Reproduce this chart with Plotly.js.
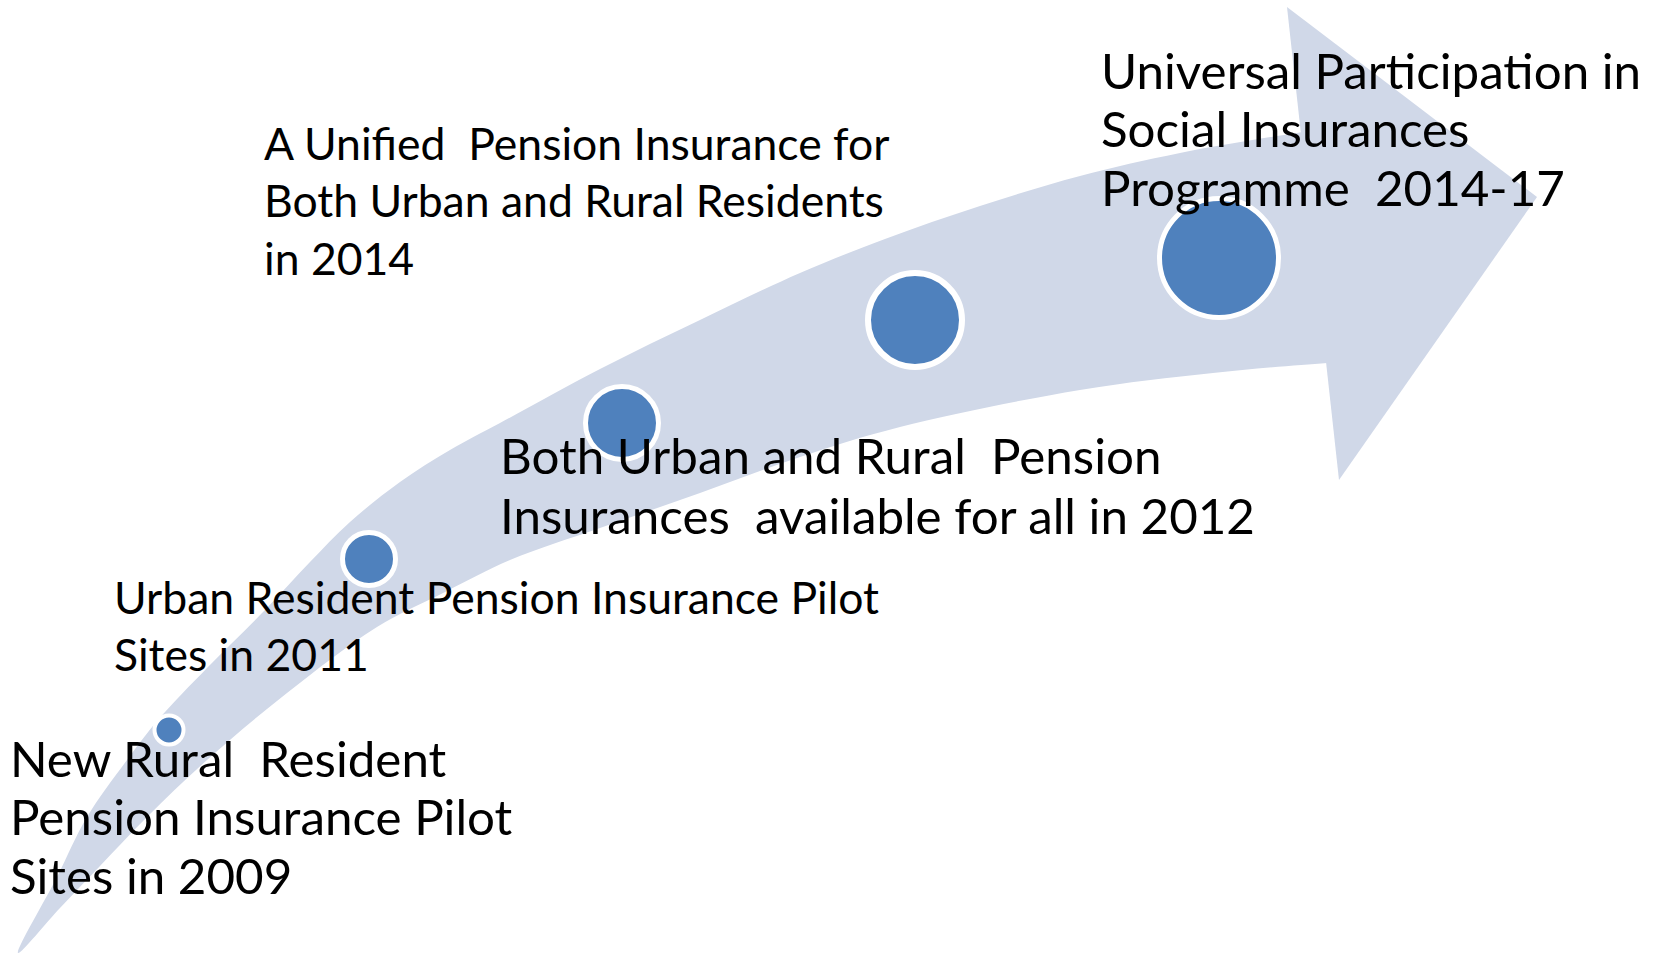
<!DOCTYPE html>
<html>
<head>
<meta charset="utf-8">
<script src="https://cdn.plot.ly/plotly-3.0.1.min.js"></script>
<style>html,body{margin:0;padding:0;background:#fff;}#chart{width:1657px;height:954px;}</style>
</head>
<body>
<div id="chart"></div>
<script>
// ---- data ----
const milestoneLabels = [
  "New Rural \u00A0Resident<br>Pension Insurance Pilot<br>Sites in 2009",
  "Urban Resident Pension Insurance Pilot<br>Sites in 2011",
  "Both Urban and Rural \u00A0Pension<br>Insurances \u00A0available for all in 2012",
  "A Unified \u00A0Pension Insurance for<br>Both Urban and Rural Residents<br>in 2014",
  "Universal Participation in<br>Social Insurances<br>Programme \u00A02014-17"
];
const milestoneX = [169, 369, 622, 915, 1219];
const milestoneY = [730, 559, 423, 320, 258];

// curved arrow shaft outline: tail tip -> upper edge -> (inside head) -> lower edge -> tail tip
const shaftX = [18, 57, 87, 127, 158, 207, 265, 310, 350, 400, 450, 500, 600, 700, 800, 885, 980, 1080, 1180, 1297, 1360, 1400, 1365, 1327, 1213, 1080, 900, 800, 700, 600, 510, 445, 377, 287, 207, 147, 100, 60, 18];
const shaftY = [953, 877, 817, 760, 720, 668, 610, 562, 522, 482, 450, 423, 369, 320, 273, 239, 206, 176, 153, 133, 125, 240, 361, 363, 373, 390, 427, 457, 493, 528, 560, 592, 627, 693, 760, 817, 866, 908, 953];
// arrow head triangle
const headX = [1287, 1537, 1339, 1287];
const headY = [7, 197, 480, 7];

// ---- label placement & marker styling ----
const labelLeft = [9, 113, 499, 263, 1100];
const labelFirstBaseline = [775, 612, 472, 158, 87];
const labelLineGap = [58.5, 57, 60, 57.5, 58.5];
const labelFontSize = [49.3, 44.5, 49.3, 44.5, 49.3];
const markerSize = [29, 53, 73, 94, 119];
const markerLine = [4, 5, 5, 6, 5];

const bandColor = '#D0D8E8';
const traces = [
  {
    x: shaftX, y: shaftY, mode: 'lines', fill: 'toself',
    fillcolor: bandColor, line: {width: 0, color: bandColor, shape: 'spline', smoothing: 1},
    hoverinfo: 'skip', showlegend: false
  },
  {
    x: headX, y: headY, mode: 'lines', fill: 'toself',
    fillcolor: bandColor, line: {width: 0, color: bandColor},
    hoverinfo: 'skip', showlegend: false
  },
  {
    x: milestoneX, y: milestoneY, mode: 'markers',
    marker: {size: markerSize, color: '#4F81BD', line: {color: '#FFFFFF', width: markerLine}, opacity: 1},
    text: milestoneLabels, hoverinfo: 'text', showlegend: false
  }
];

const annotations = [];
milestoneLabels.forEach((lab, i) => {
  lab.split('<br>').forEach((line, j) => {
    const fs = labelFontSize[i];
    annotations.push({
      x: labelLeft[i], y: labelFirstBaseline[i] + j * labelLineGap[i] - 0.35 * fs,
      xref: 'x', yref: 'y', text: line, showarrow: false,
      xanchor: 'left', yanchor: 'middle', align: 'left', borderpad: 0,
      font: {family: 'Lato, "Open Sans", sans-serif', size: fs, color: '#000000'}
    });
  });
});

const layout = {
  width: 1657, height: 954,
  margin: {l: 0, r: 0, t: 0, b: 0, pad: 0},
  paper_bgcolor: '#FFFFFF', plot_bgcolor: '#FFFFFF',
  xaxis: {range: [0, 1657], visible: false, fixedrange: true},
  yaxis: {range: [954, 0], visible: false, fixedrange: true},
  annotations: annotations,
  showlegend: false
};

Plotly.newPlot('chart', traces, layout, {displayModeBar: false, staticPlot: true});
</script>
</body>
</html>
